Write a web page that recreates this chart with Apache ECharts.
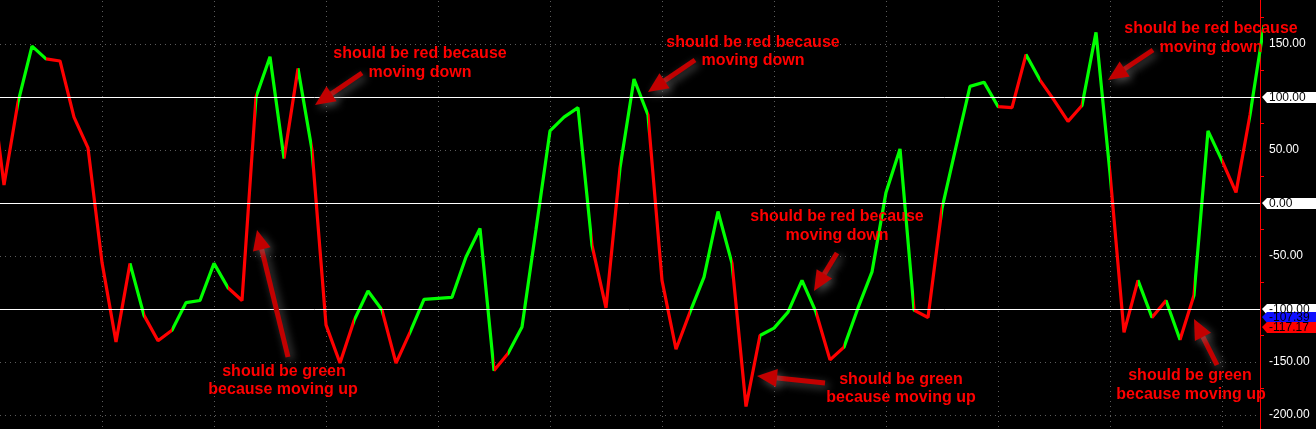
<!DOCTYPE html>
<html><head><meta charset="utf-8">
<script src="https://cdn.jsdelivr.net/npm/echarts@6/dist/echarts.min.js"></script>
<style>html,body{margin:0;padding:0;background:#000;overflow:hidden}#c{width:1316px;height:429px;}</style>
</head><body><div id="c"></div>
<script>
// Oscillator values, one per bar (first and last bars are partly clipped)
const values = [122, 17, 95, 148, 136, 134, 81, 52, -56, -131,
  -57, -106, -130, -120, -94, -92, -57, -80, -92, 100,
  138, 42, 127, 50, -115, -151, -111, -83, -101, -151,
  -122, -91, -90, -89, -51, -24, -158, -142, -117, -25,
  68, 81, 90, -40, -99, 33, 117, 83, -73, -138,
  -103, -70, -8, -57, -192, -125, -118, -103, -73, -103,
  -148, -136, -99, -65, 10, 51, -101, -108, -5, 53,
  110, 114, 91, 90, 140, 116, 97, 77, 92, 161,
  28, -122, -73, -108, -92, -129, -87, 68, 40, 10,
  83, 168];
// colour of each segment between consecutive bars: r = red, g = green
const segmentColors = "rrggrrrrrrg" + "rrggggrrgg" + "rgrrrggrrg" + "gggggrgggg" + "ggrrggrrrg" +
  "ggrrggggrr" + "gggggrrggg" + "grrgrrrggr" + "rgrgrggrrg";
const levelLines = [100, 0, -100];
const yMin = -250, yMax = 200, yStep = 50;
const xMax = 90.714, xStep = 8;
const tags = [
  { value: 100, text: '100.00', bg: '#ffffff', fg: '#000000' },
  { value: 0, text: '0.00', bg: '#ffffff', fg: '#000000' },
  { value: -100, text: '-100.00', bg: '#ffffff', fg: '#000000' },
  { value: -107.39, text: '-107.39', bg: '#1010ff', fg: '#000000' },
  { value: -117.17, text: '-117.17', bg: '#ff0000', fg: '#000000' }
];
const noteLines = [
  { text: 'should be red because', x: 420, y: 54 }, { text: 'moving down', x: 420, y: 73 },
  { text: 'should be red because', x: 753, y: 43 }, { text: 'moving down', x: 753, y: 61 },
  { text: 'should be red because', x: 1211, y: 29 }, { text: 'moving down', x: 1211, y: 48 },
  { text: 'should be red because', x: 837, y: 217 }, { text: 'moving down', x: 837, y: 236 },
  { text: 'should be green', x: 284, y: 372 }, { text: 'because moving up', x: 283, y: 390 },
  { text: 'should be green', x: 901, y: 380 }, { text: 'because moving up', x: 901, y: 398 },
  { text: 'should be green', x: 1190, y: 376 }, { text: 'because moving up', x: 1191, y: 395 }
];
const noteArrows = [
  [362, 73, 315, 105], [695, 60, 648, 92], [1153, 50, 1108, 80], [837, 253, 814, 291],
  [288, 357, 257, 230], [825, 383, 757, 376], [1217, 365, 1194, 319]
];

const GREEN = '#00ff00', RED = '#ff0000';
const pieces = [];
let start = 0;
for (let i = 1; i <= segmentColors.length; i++) {
  if (i === segmentColors.length || segmentColors[i] !== segmentColors[start]) {
    const p = { gte: start, color: segmentColors[start] === 'g' ? GREEN : RED };
    if (i === segmentColors.length) p.lte = 1000; else p.lt = i;
    pieces.push(p);
    start = i;
  }
}

const chart = echarts.init(document.getElementById('c'), null, { renderer: 'canvas' });
const FONT = "'Liberation Sans', Arial, sans-serif";
chart.setOption({
  animation: false,
  backgroundColor: '#000',
  grid: { left: -10, right: 56, top: -9, bottom: -39, containLabel: false, outerBoundsMode: 'none' },
  xAxis: {
    type: 'value', min: 0, max: xMax, interval: xStep,
    axisLine: { show: false, onZero: false }, axisTick: { show: false }, axisLabel: { show: false },
    splitLine: { show: true, lineStyle: { color: '#5c5c5c', type: [1, 4], width: 1 } }
  },
  yAxis: {
    type: 'value', position: 'right', min: yMin, max: yMax, interval: yStep,
    axisLine: { show: true, onZero: false, lineStyle: { color: '#ff0000', width: 1 } },
    axisTick: { show: false },
    minorTick: { show: true, splitNumber: 2, length: 4, lineStyle: { color: '#ff0000' } },
    axisLabel: {
      color: '#ffffff', fontSize: 12, fontFamily: FONT, margin: 9,
      formatter: v => levelLines.indexOf(v) >= 0 ? '' : v.toFixed(2)
    },
    splitLine: { show: true, lineStyle: { color: '#5c5c5c', type: [1, 4], width: 1 } }
  },
  visualMap: { type: 'piecewise', show: false, dimension: 0, seriesIndex: 0, pieces: pieces },
  series: [{
    type: 'line',
    data: values.map((v, i) => [i, v]),
    showSymbol: false,
    lineStyle: { width: 3.2 },
    z: 3,
    markLine: {
      silent: true, symbol: 'none', animation: false,
      label: { show: false },
      lineStyle: { color: '#ffffff', width: 1, type: 'solid' },
      data: levelLines.map(v => ({ yAxis: v }))
    }
  }]
});

const axisX = chart.convertToPixel({ xAxisIndex: 0 }, xMax);
const gfx = [];
tags.forEach(t => {
  const y = Math.round(chart.convertToPixel({ yAxisIndex: 0 }, t.value));
  gfx.push({
    type: 'polygon', z: 100,
    shape: { points: [[axisX + 2, y], [axisX + 7, y - 5], [1316, y - 5], [1316, y + 6], [axisX + 7, y + 6]] },
    style: { fill: t.bg }
  });
  gfx.push({
    type: 'text', z: 101, x: axisX + 9, y: y + 0.5,
    style: { text: t.text, fill: t.fg, font: '12px ' + FONT, textAlign: 'left', textVerticalAlign: 'middle', align: 'left', verticalAlign: 'middle' }
  });
});
const ARROW = '#c20000';
noteArrows.forEach(a => {
  const [x1, y1, x2, y2] = a;
  const dx = x2 - x1, dy = y2 - y1, len = Math.hypot(dx, dy);
  const ux = dx / len, uy = dy / len, nx = -uy, ny = ux;
  const hl = 20, hw = 9;
  const bx = x2 - ux * hl, by = y2 - uy * hl;
  const shadow = { shadowBlur: 8, shadowColor: 'rgba(110,110,110,0.7)', shadowOffsetX: 3, shadowOffsetY: 3 };
  gfx.push({
    type: 'line', z: 50,
    shape: { x1: x1, y1: y1, x2: bx + ux * 2, y2: by + uy * 2 },
    style: Object.assign({ stroke: ARROW, lineWidth: 5 }, shadow)
  });
  gfx.push({
    type: 'polygon', z: 50,
    shape: { points: [[x2, y2], [bx + nx * hw, by + ny * hw], [bx - nx * hw, by - ny * hw]] },
    style: Object.assign({ fill: ARROW }, shadow)
  });
});
noteLines.forEach(n => {
  gfx.push({
    type: 'text', z: 60, x: n.x, y: n.y,
    style: { text: n.text, fill: '#ff0000', font: 'bold 16px ' + FONT, textAlign: 'center', textVerticalAlign: 'middle', align: 'center', verticalAlign: 'middle' }
  });
});
chart.setOption({ graphic: { elements: gfx } });
</script>
</body></html>
